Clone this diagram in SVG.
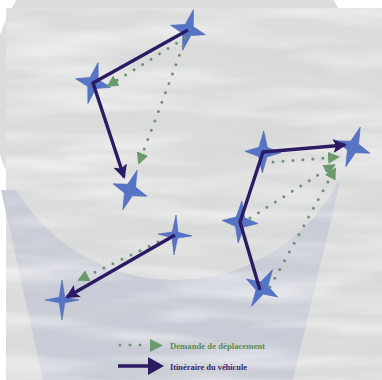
<svg xmlns="http://www.w3.org/2000/svg" xmlns:xlink="http://www.w3.org/1999/xlink" width="382" height="380" viewBox="0 0 382 380">
  <style>
    .star { fill: #5674c6; stroke: #4b66b6; stroke-width: 0.6; }
    .route { fill: none; stroke: #2c1a62; stroke-width: 3.4; stroke-linejoin: round; }
    .demand { fill: none; stroke: #6f9078; stroke-width: 3; stroke-linecap: round; stroke-dasharray: 0 10; }
    .lbl { font-family: "Liberation Serif", "DejaVu Serif", serif; font-weight: bold; font-size: 9px; }
  </style>
  <defs>
    <path id="star" d="M0,-21 L4.2,-4.6 L18,0 L4.2,4.6 L0,21 L-4.2,4.6 L-18,0 L-4.2,-4.6 Z"/>
    <path id="spark" d="M0,-20 L2.8,-2.8 L17,0 L2.8,2.8 L0,20 L-2.8,2.8 L-17,0 L-2.8,-2.8 Z"/>
    <marker id="headRoute" viewBox="0 0 14 14" refX="12" refY="7" markerWidth="14" markerHeight="14" markerUnits="userSpaceOnUse" orient="auto">
      <path d="M0,0 L14,7 L0,14 L3,7 Z" fill="#2c1a62"/>
    </marker>
    <marker id="headDemand" viewBox="0 0 12 12" refX="10" refY="6" markerWidth="12" markerHeight="12" markerUnits="userSpaceOnUse" orient="auto">
      <path d="M0,0 L12,6 L0,12 Z" fill="#6b9a6c"/>
    </marker>
    <filter id="marble" x="0" y="0" width="100%" height="100%">
      <feTurbulence type="fractalNoise" baseFrequency="0.006 0.045" numOctaves="3" seed="7"/>
      <feColorMatrix type="matrix" values="0 0 0 0 1  0 0 0 0 1  0 0 0 0 1  1.8 0 0 0 -0.75"/>
    </filter>
    <filter id="marble2" x="0" y="0" width="100%" height="100%">
      <feTurbulence type="fractalNoise" baseFrequency="0.009 0.05" numOctaves="3" seed="21"/>
      <feColorMatrix type="matrix" values="0 0 0 0 0.6  0 0 0 0 0.66  0 0 0 0 0.62  1.5 0 0 0 -0.65"/>
    </filter>
  </defs>

  <!-- background -->
  <rect x="0" y="0" width="382" height="380" fill="#ffffff"/>
  <rect x="6" y="8" width="376" height="372" fill="#dcdcdd"/>
  <polygon points="1,190 340,182 293,380 43,380" fill="#c9ccd7"/>
  <circle cx="175" cy="95" r="185" fill="#dcdcdd"/>
  <rect x="6" y="8" width="376" height="372" filter="url(#marble2)" opacity="0.55"/>
  <rect x="6" y="8" width="376" height="372" filter="url(#marble)" opacity="0.75"/>

  <!-- nodes -->
  <g id="n1" transform="translate(188,30) rotate(15)"><use href="#star" class="star"/></g>
  <g id="n2" transform="translate(93,83) rotate(14)"><use href="#star" class="star"/></g>
  <g id="n3" transform="translate(130,190) rotate(20)"><use href="#star" class="star"/></g>
  <g id="n4" transform="translate(175,235) rotate(3)"><use href="#spark" class="star"/></g>
  <g id="n5" transform="translate(62,300)"><use href="#spark" class="star"/></g>
  <g id="n6" transform="translate(263,152) rotate(2)"><use href="#star" class="star"/></g>
  <g id="n7" transform="translate(353,147) rotate(20)"><use href="#star" class="star"/></g>
  <g id="n8" transform="translate(240,222) rotate(5)"><use href="#star" class="star"/></g>
  <g id="n9" transform="translate(262,288) rotate(30)"><use href="#star" class="star"/></g>

  <!-- connectors -->
  <g id="connectors">
    <path class="demand" d="M185,38 L108,86" marker-end="url(#headDemand)"/>
    <path class="demand" d="M183,46 L139,163" marker-end="url(#headDemand)"/>
    <path class="demand" d="M158,242 L79,280" marker-end="url(#headDemand)"/>
    <path class="demand" d="M273,162 L338,157" marker-end="url(#headDemand)"/>
    <path class="demand" d="M250,218 L334,165" marker-end="url(#headDemand)"/>
    <path class="demand" d="M270,287 L335,169" marker-end="url(#headDemand)"/>

    <path class="route" d="M188,30 L93,83 L124,177" marker-end="url(#headRoute)"/>
    <path class="route" d="M260,290 L240,222 L263,152 L345,145" marker-end="url(#headRoute)"/>
    <path class="route" d="M175,235 L67,297" marker-end="url(#headRoute)"/>
  </g>

  <!-- legend -->
  <g id="legend">
    <path class="demand" d="M120,345 L147,345" stroke-dasharray="0 8.5"/>
    <path d="M150,339 L163,345.5 L150,352 Z" fill="#6b9a6c"/>
    <text class="lbl" x="170" y="349" fill="#5b8a4f" textLength="95" lengthAdjust="spacingAndGlyphs">Demande de déplacement</text>
    <path d="M118,366 L151,366" stroke="#2c1a62" stroke-width="3.6" fill="none"/>
    <path d="M148,357 L164,366 L148,375 Z" fill="#2c1a62"/>
    <text class="lbl" x="170" y="370" fill="#3a1f6e" textLength="77" lengthAdjust="spacingAndGlyphs">Itinéraire du véhicule</text>
  </g>
</svg>
